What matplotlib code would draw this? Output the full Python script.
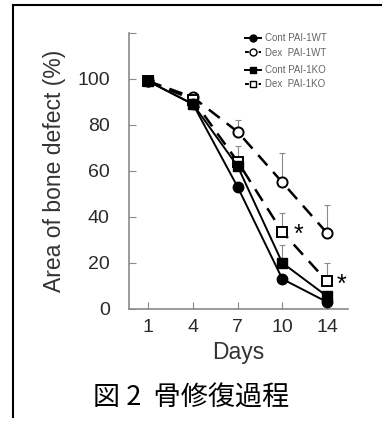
import numpy as np
import matplotlib
matplotlib.use('Agg')
import matplotlib.pyplot as plt
from matplotlib.lines import Line2D

plt.rcParams['font.family'] = ['Liberation Sans', 'Noto Sans CJK JP', 'DejaVu Sans']

days = ['1', '4', '7', '10', '14']
cont_wt = [99, 89, 53, 13, 3]
dex_wt = [99, 92, 77, 55, 33]
cont_ko = [99, 89, 62, 20, 5.5]
dex_ko = [99, 91, 64, 33.5, 12]
dex_wt_err = [0, 0, 5, 13, 12]
dex_ko_err = [0, 0, 7, 8, 8]
cont_ko_err = [0, 0, 0, 8, 0]
labels = ['Cont PAI-1WT', 'Dex  PAI-1WT', 'Cont PAI-1KO', 'Dex  PAI-1KO']
caption = '図 2  骨修復過程'

fig = plt.figure(figsize=(3.82, 4.22), dpi=100)
ax = fig.add_axes([0.338, 0.268, 0.573, 0.654])
x = np.arange(len(days))
gray = '#8a8a8a'

# error bars (upper only)
for vals, err in [(dex_wt, dex_wt_err), (dex_ko, dex_ko_err), (cont_ko, cont_ko_err)]:
    ax.errorbar(x, vals, yerr=[np.zeros(len(err)), err], fmt='none', ecolor=gray,
                elinewidth=0.8, capsize=2.5, capthick=0.8, zorder=1)

ax.plot(x, dex_wt, color='black', lw=1.8, ls=(0, (5.5, 3.5)), marker='o', ms=7.3,
        mfc='white', mec='black', mew=1.4, zorder=3)
ax.plot(x, dex_ko, color='black', lw=1.8, ls=(0, (5.5, 3.5)), marker='s', ms=7,
        mfc='white', mec='black', mew=1.4, zorder=3)
ax.plot(x, cont_ko, color='black', lw=1.4, marker='s', ms=7, mfc='black', mec='black', zorder=4)
ax.plot(x, cont_wt, color='black', lw=1.4, marker='o', ms=7.5, mfc='black', mec='black', zorder=4)

ax.text(x[3] + 0.36, dex_ko[3] - 1.5, '*', fontsize=18, ha='center', va='center')
ax.text(x[4] + 0.33, dex_ko[4] - 1.5, '*', fontsize=18, ha='center', va='center')

ax.set_xlim(-0.43, 4.47)
ax.set_ylim(0, 120)
ax.set_xticks(x)
ax.set_xticklabels(days)
ax.set_yticks([0, 20, 40, 60, 80, 100, 120])
ax.set_yticklabels(['0', '20', '40', '60', '80', '100', ''])
ax.tick_params(direction='in', length=5, color=gray, labelsize=14, labelcolor='#2a2a2a')
ax.tick_params(axis='y', pad=14)
ax.tick_params(axis='x', pad=7)
for s in ['top', 'right']:
    ax.spines[s].set_visible(False)
for s in ['left', 'bottom']:
    ax.spines[s].set_color(gray)
    ax.spines[s].set_linewidth(1.2)
ax.set_xlabel('Days', fontsize=16.5, color='#333333', labelpad=4)
ax.set_ylabel('Area of bone defect (%)', fontsize=16.5, color='#333333', labelpad=8)

# legend in two groups
h1 = [Line2D([], [], color='black', lw=1.4, marker='o', ms=5, mfc='black'),
      Line2D([], [], color='black', lw=1.4, ls=(0, (2, 1.5)), marker='o', ms=5, mfc='white')]
h2 = [Line2D([], [], color='black', lw=1.4, marker='s', ms=5, mfc='black'),
      Line2D([], [], color='black', lw=1.4, ls=(0, (2, 1.5)), marker='s', ms=5, mfc='white')]
leg_kw = dict(loc='upper left', frameon=False, fontsize=7, handlelength=1.6,
              handletextpad=0.4, labelspacing=0.45, labelcolor='#666666')
leg1 = ax.legend(h1, labels[:2], bbox_to_anchor=(0.49, 1.03), **leg_kw)
ax.add_artist(leg1)
ax.legend(h2, labels[2:], bbox_to_anchor=(0.49, 0.915), **leg_kw)

fig.text(0.5, 0.057, caption, fontsize=19.5, ha='center', va='center',
         family=['Noto Sans CJK JP', 'DejaVu Sans'])

# frame lines on the page
fig.add_artist(Line2D([13 / 382, 1], [1 - 5 / 422, 1 - 5 / 422], color='black', lw=1.5,
                      transform=fig.transFigure))
fig.add_artist(Line2D([13 / 382, 13 / 382], [1 - 5 / 422, 1 - 417 / 422], color='black', lw=1.5,
                      transform=fig.transFigure))

fig.savefig('out.png', dpi=100)
